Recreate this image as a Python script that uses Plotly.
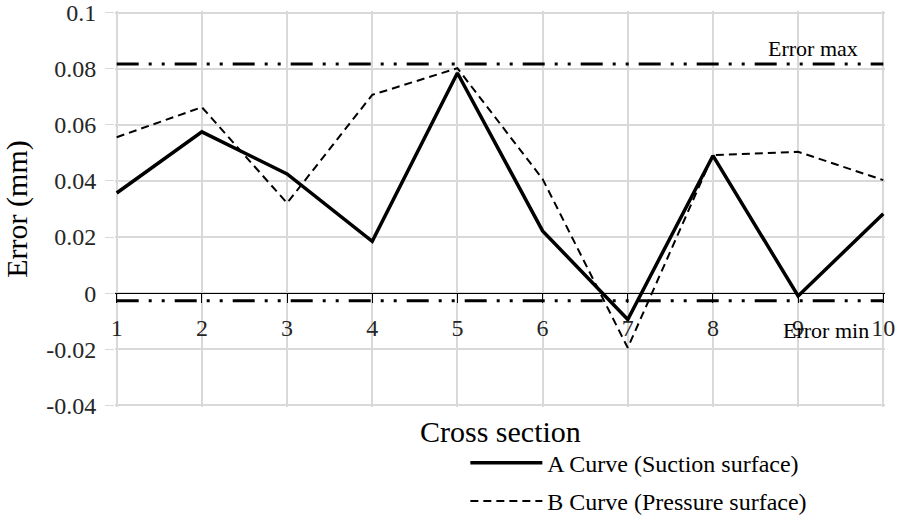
import plotly.graph_objects as go

# ---- data ----
cross_sections = [1, 2, 3, 4, 5, 6, 7, 8, 9, 10]
curve_a = [0.0357, 0.0575, 0.0425, 0.0185, 0.0785, 0.0222, -0.0094, 0.0490, -0.0010, 0.0283]
curve_b = [0.0556, 0.0663, 0.0321, 0.0707, 0.0802, 0.0407, -0.0195, 0.0492, 0.0504, 0.0403]
error_max = [0.0817] * 10
error_min = [-0.0027] * 10
y_tick_vals = [-0.04, -0.02, 0, 0.02, 0.04, 0.06, 0.08, 0.1]
y_tick_text = ["-0.04", "-0.02", "0", "0.02", "0.04", "0.06", "0.08", "0.1"]
x_tick_text = ["1", "2", "3", "4", "5", "6", "7", "8", "9", "10"]
x_range = [0.98, 10.02]
y_range = [-0.0406, 0.1006]

FONT = "Liberation Serif, Times New Roman, serif"
DASHDOTDOT = "22px,10px,3px,10px,3px,10px"

fig = go.Figure()
fig.add_trace(go.Scatter(x=cross_sections, y=error_max, mode="lines", showlegend=False,
                         line=dict(color="black", width=3, dash=DASHDOTDOT), hoverinfo="skip"))
fig.add_trace(go.Scatter(x=cross_sections, y=error_min, mode="lines", showlegend=False,
                         line=dict(color="black", width=3, dash=DASHDOTDOT), hoverinfo="skip"))
fig.add_trace(go.Scatter(x=cross_sections, y=curve_b, mode="lines",
                         name="B Curve (Pressure surface)", legendgroup="b", legendrank=2,
                         line=dict(color="black", width=2, dash="8px,5px")))
fig.add_trace(go.Scatter(x=cross_sections, y=curve_a, mode="lines",
                         name="A Curve (Suction surface)", legendgroup="a", legendrank=1,
                         line=dict(color="black", width=3.5)))

zero_pos = (0 - y_range[0]) / (y_range[1] - y_range[0])

fig.update_layout(
    width=898, height=525,
    margin=dict(l=115, r=13, t=11, b=118, autoexpand=False),
    paper_bgcolor="white", plot_bgcolor="white",
    font=dict(family=FONT, size=24, color="#262626"),
    xaxis=dict(range=x_range, tickvals=cross_sections, ticktext=x_tick_text,
               showgrid=True, gridcolor="#d9d9d9", gridwidth=1.5,
               anchor="free", position=zero_pos, automargin=False,
               showline=True, linecolor="black", linewidth=1.2,
               ticks="outside", ticklen=9, tickcolor="black", tickwidth=1.2,
               ticklabelstandoff=4, zeroline=False,
               tickfont=dict(family=FONT, size=24, color="#262626")),
    yaxis=dict(range=y_range, tickvals=y_tick_vals, ticktext=y_tick_text,
               showgrid=True, gridcolor="#d9d9d9", gridwidth=1.5, automargin=False,
               showline=False,
               ticks="outside", ticklen=9, tickcolor="#d9d9d9",
               ticklabelstandoff=4, zeroline=False,
               title=dict(text="Error (mm)", standoff=12,
                          font=dict(family=FONT, size=30, color="black")),
               tickfont=dict(family=FONT, size=24, color="#262626")),
    legend=dict(x=0.455, y=-0.085, xanchor="left", yanchor="top",
                traceorder="grouped", tracegroupgap=4, itemwidth=72,
                font=dict(family=FONT, size=24, color="black"),
                bgcolor="rgba(0,0,0,0)"),
    annotations=[
        dict(text="Cross section", xref="paper", yref="paper", x=0.5, y=0,
             xanchor="center", yanchor="top", yshift=-6, showarrow=False,
             font=dict(family=FONT, size=30, color="black")),
        dict(text="Error max", xref="x", yref="y", x=9.17, y=0.0872,
             xanchor="center", yanchor="middle", showarrow=False,
             font=dict(family=FONT, size=22, color="black")),
        dict(text="Error min", xref="x", yref="y", x=9.33, y=-0.0134,
             xanchor="center", yanchor="middle", showarrow=False,
             font=dict(family=FONT, size=22, color="black")),
    ],
)

fig.write_html("out.html", config={"displayModeBar": False},
               post_script="document.body.style.margin='0';")
